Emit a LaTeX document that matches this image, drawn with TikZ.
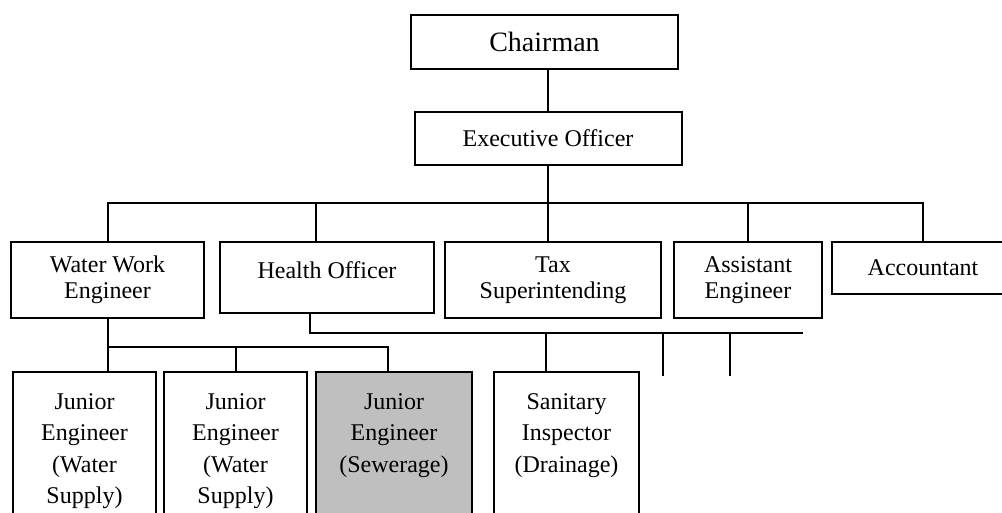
\documentclass[tikz,border=0pt]{standalone}
\usepackage{fontspec}
\setmainfont{Liberation Serif}
\begin{document}
\begin{tikzpicture}[
    x=1pt, y=-1pt,
    box/.style={rectangle, draw=black, line width=2pt, inner sep=0pt, align=center, font=\fontsize{24}{26}\selectfont},
    junior/.style={box, anchor=north, inner ysep=21.5pt, text depth=150pt, font=\fontsize{24}{31.5}\selectfont},
    link/.style={line width=2pt, black}
]
\useasboundingbox (0,0) rectangle (1002,513);

% Top level
\node[box, minimum width=267pt, minimum height=54pt, font=\fontsize{28}{30}\selectfont] (chair) at (544.5,42) {Chairman};
\node[box, minimum width=267pt, minimum height=53pt] (exec) at (548,138.5) {Executive Officer};

% Officers
\node[box, minimum width=193pt, minimum height=76pt] (ww) at (107.5,280) {Water Work\\Engineer};
\node[box, minimum width=214pt, minimum height=71pt, text depth=15.5pt] (health) at (327,277.5) {Health Officer};
\node[box, minimum width=216pt, minimum height=76pt] (tax) at (553,280) {Tax\\Superintending};
\node[box, minimum width=148pt, minimum height=76pt] (asst) at (748,280) {Assistant\\Engineer};
\node[box, minimum width=182pt, minimum height=52pt] (acct) at (923,268) {Accountant};

% Field staff
\node[junior, minimum width=143pt] (je1) at (84.5,371) {Junior\\Engineer\\(Water\\Supply)};
\node[junior, minimum width=143pt] (je2) at (235.5,371) {Junior\\Engineer\\(Water\\Supply)};
\node[junior, minimum width=156pt, fill=black!25] (je3) at (394,371) {Junior\\Engineer\\(Sewerage)};
\node[junior, minimum width=145pt] (san) at (566.5,371) {Sanitary\\Inspector\\(Drainage)};

% Lines
\coordinate (bus) at (548,203);
\coordinate (wbus) at (0,347);
\coordinate (hbus) at (803,333);
\coordinate (stub1) at (663,376);
\coordinate (stub2) at (730,376);

\draw[link] (exec.north) -- (exec.north |- chair.south);
\draw[link] (ww.north) |- (bus) -| (acct.north);
\draw[link] (exec.south) -- (exec.south |- tax.north);
\draw[link] ([xshift=-11pt]health.north) -- ([xshift=-11pt]health.north |- bus);
\draw[link] (asst.north) -- (asst.north |- bus);

\draw[link] (ww.south) -- (ww.south |- je1.north);
\draw[link] (ww.south |- wbus) -| ([xshift=-6pt]je3.north);
\draw[link] (je2.north) -- (je2.north |- wbus);

\draw[link] ([xshift=-17pt]health.south) |- (hbus);
\draw[link] ([xshift=-20.5pt]san.north) -- ([xshift=-20.5pt]san.north |- hbus);
\draw[link] (stub1) -- (stub1 |- hbus);
\draw[link] (stub2) -- (stub2 |- hbus);

\end{tikzpicture}
\end{document}
